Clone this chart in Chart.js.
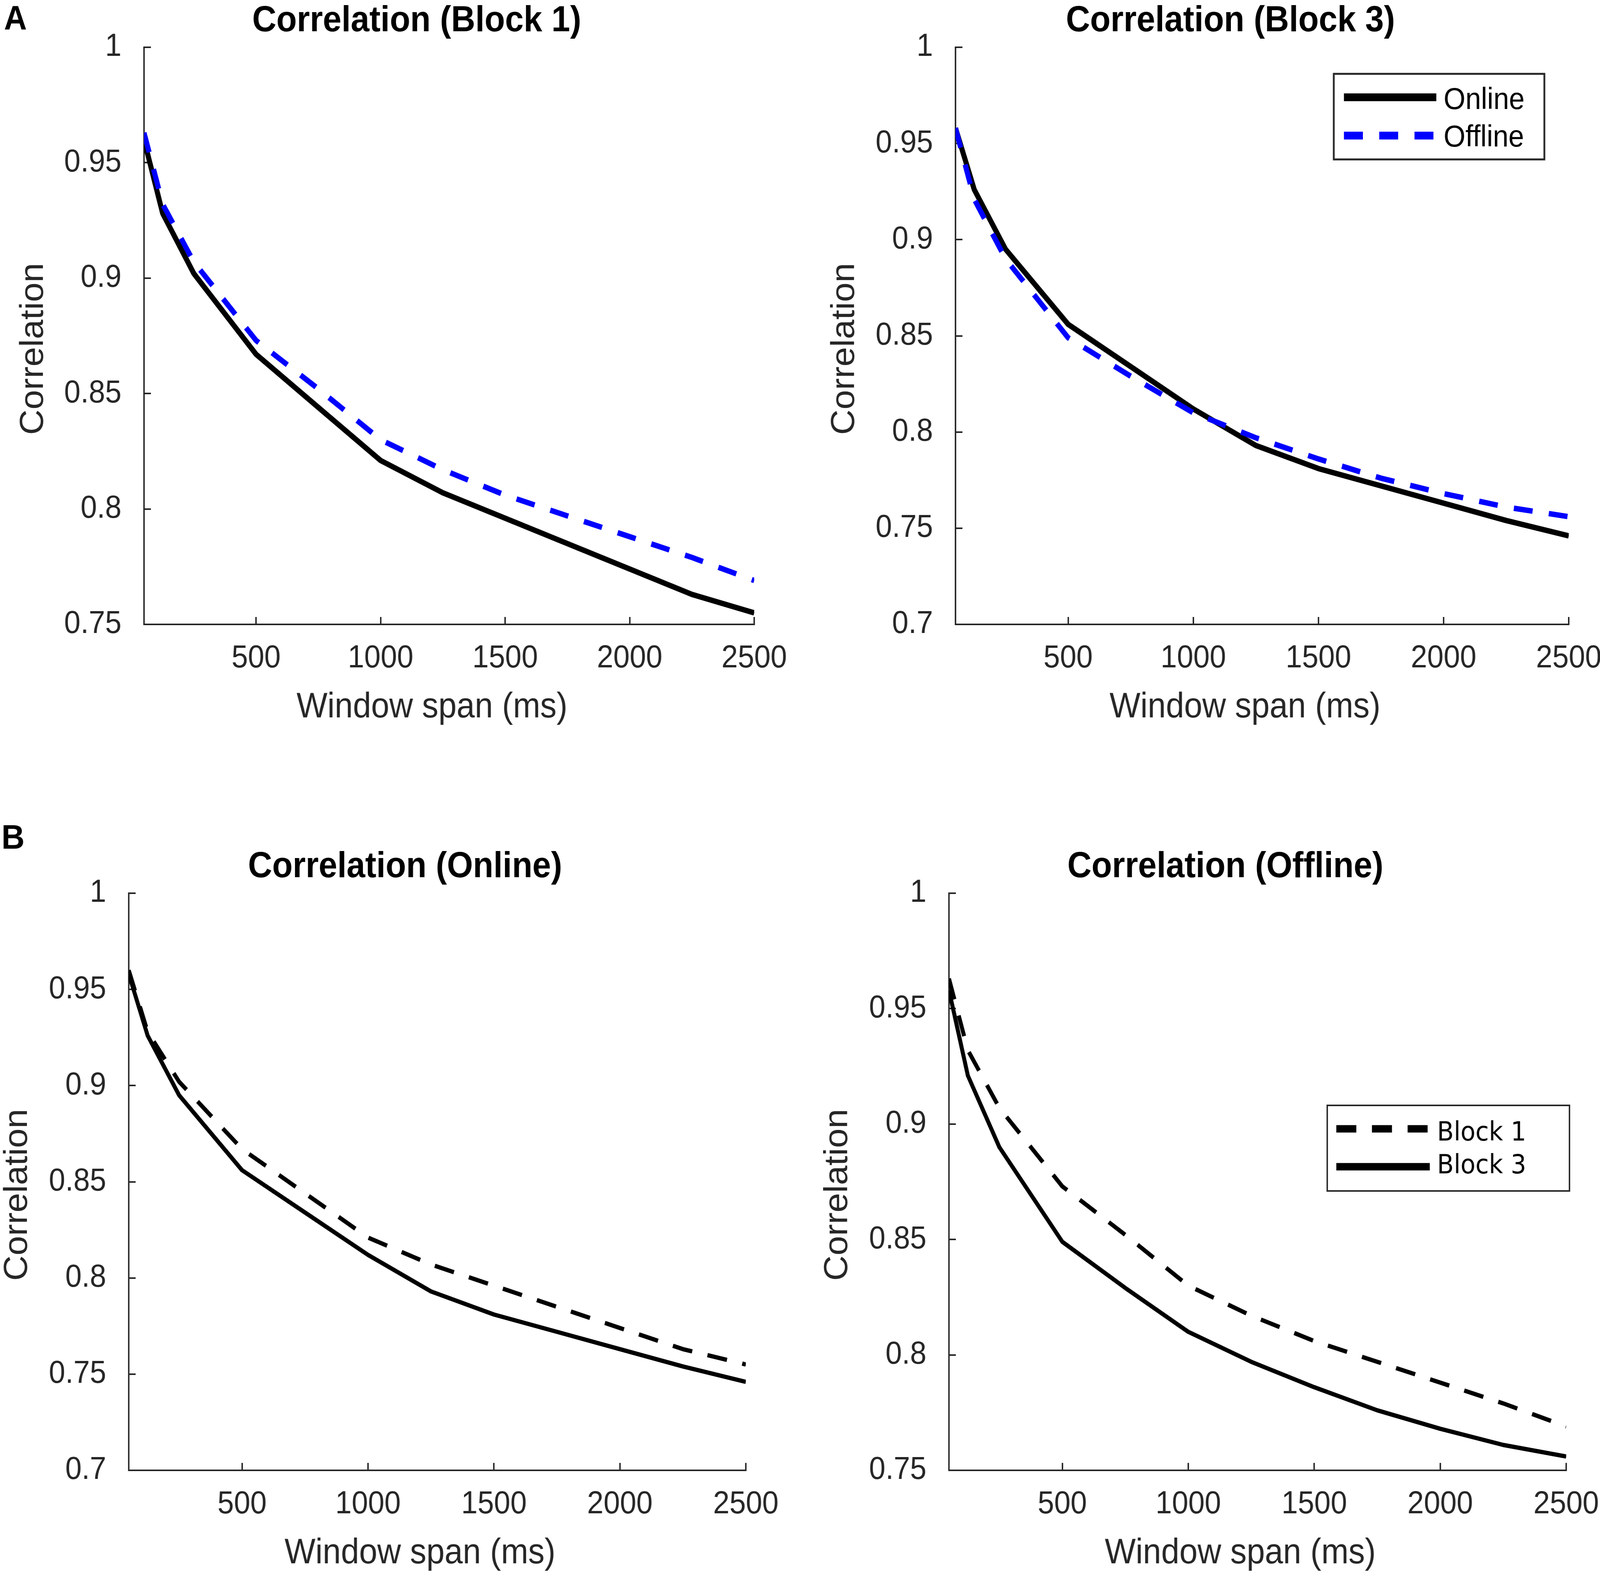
<!DOCTYPE html>
<html>
<head>
<meta charset="utf-8">
<script src="https://cdn.jsdelivr.net/npm/chart.js@4.4.1/dist/chart.umd.min.js"></script>
<style>
  html, body { margin: 0; padding: 0; background: #ffffff; overflow: hidden; }
  canvas { position: absolute; display: block; }
</style>
</head>
<body>
<canvas id="c1"></canvas>
<canvas id="c2"></canvas>
<canvas id="c3"></canvas>
<canvas id="c4"></canvas>
<script>
// ---------------- data ----------------
const windowSpan    = [50, 125, 250, 500, 750, 1000, 1250, 1500, 1750, 2000, 2250, 2500];
const block1Online  = [0.960, 0.928, 0.902, 0.867, 0.844, 0.821, 0.807, 0.796, 0.785, 0.774, 0.763, 0.755];
const block1Offline = [0.963, 0.932, 0.907, 0.873, 0.852, 0.830, 0.817, 0.806, 0.797, 0.788, 0.779, 0.769];
const block3Online  = [0.958, 0.926, 0.895, 0.856, 0.834, 0.812, 0.793, 0.781, 0.772, 0.763, 0.754, 0.746];
const block3Offline = [0.958, 0.921, 0.890, 0.849, 0.829, 0.810, 0.797, 0.786, 0.776, 0.768, 0.761, 0.756];

const xTicks      = [500, 1000, 1500, 2000, 2500];
const xTickLabels = ['500', '1000', '1500', '2000', '2500'];
const yTicks075      = [0.75, 0.8, 0.85, 0.9, 0.95, 1];
const yTickLabels075 = ['0.75', '0.8', '0.85', '0.9', '0.95', '1'];
const yTicks070      = [0.7, 0.75, 0.8, 0.85, 0.9, 0.95, 1];
const yTickLabels070 = ['0.7', '0.75', '0.8', '0.85', '0.9', '0.95', '1'];

const xAxisTitle = 'Window span (ms)';
const yAxisTitle = 'Correlation';

// ---------------- styling / layout ----------------
// The figure is laid out on a 4400 x 4036 grid and stretched to fill the actual viewport.
const PAGE_W = 4400, PAGE_H = 4036;
const vw = window.innerWidth || document.documentElement.clientWidth || PAGE_W;
const vh = window.innerHeight || document.documentElement.clientHeight || PAGE_H;
const SX = vw / PAGE_W;
const SY = vh / PAGE_H;
document.documentElement.style.width = (PAGE_W * SX) + 'px';
document.documentElement.style.height = (PAGE_H * SY) + 'px';
document.body.style.width = (PAGE_W * SX) + 'px';
document.body.style.height = (PAGE_H * SY) + 'px';

const SANS = '"Liberation Sans", Arial, Helvetica, sans-serif';
const AXIS_COLOR = '#262626';
const XH = 200;

function pts(values) { return windowSpan.map((s, i) => ({ x: s, y: values[i] })); }

const panels = [
  {
    id: 'c1', cl: 0, ct: 0, cw: 2200, ch: 2018,
    area: { l: 396, r: 2074, t: 121, b: 1598 },
    yMin: 0.75, yTicks: yTicks075, yLabels: yTickLabels075,
    title: 'Correlation (Block 1)', titlePos: [1146, 80],
    xLabelPos: [1188, 1836], yLabelPos: [93, 893],
    letter: { text: 'A', x: 11, y: 75, size: 87 },
    datasets: [
      { label: 'Offline', values: block1Offline, color: '#0000ff', dash: [52, 45], width: 14, order: 0 },
      { label: 'Online',  values: block1Online,  color: '#000000', dash: [],       width: 14, order: 1 }
    ],
    legend: null
  },
  {
    id: 'c2', cl: 2150, ct: 0, cw: 2250, ch: 2018,
    area: { l: 2628, r: 4314, t: 121, b: 1598 },
    yMin: 0.7, yTicks: yTicks070, yLabels: yTickLabels070,
    title: 'Correlation (Block 3)', titlePos: [3384, 80],
    xLabelPos: [3424, 1836], yLabelPos: [2324, 893],
    letter: null,
    datasets: [
      { label: 'Offline', values: block3Offline, color: '#0000ff', dash: [52, 45], width: 14, order: 0 },
      { label: 'Online',  values: block3Online,  color: '#000000', dash: [],       width: 14, order: 1 }
    ],
    legend: { box: [3668, 189, 579, 219], border: 5, rows: [1, 0], rowY: [249, 347], baseY: [279, 375],
              sx: [3696, 3950], tx: 3970, font: '77px ' + SANS, lineWidth: 20 }
  },
  {
    id: 'c3', cl: 0, ct: 2018, cw: 2200, ch: 2018,
    area: { l: 354, r: 2051, t: 2286, b: 3763 },
    yMin: 0.7, yTicks: yTicks070, yLabels: yTickLabels070,
    title: 'Correlation (Online)', titlePos: [1114, 2245],
    xLabelPos: [1155, 4001], yLabelPos: [49, 3058],
    letter: { text: 'B', x: 4, y: 2172, size: 88 },
    datasets: [
      { label: 'Block 1', values: block1Online, color: '#000000', dash: [55, 43], width: 11, order: 0 },
      { label: 'Block 3', values: block3Online, color: '#000000', dash: [],       width: 11, order: 1 }
    ],
    legend: null
  },
  {
    id: 'c4', cl: 2150, ct: 2018, cw: 2250, ch: 2018,
    area: { l: 2610, r: 4307, t: 2286, b: 3763 },
    yMin: 0.75, yTicks: yTicks075, yLabels: yTickLabels075,
    title: 'Correlation (Offline)', titlePos: [3370, 2245],
    xLabelPos: [3411, 4001], yLabelPos: [2305, 3058],
    letter: null,
    datasets: [
      { label: 'Block 1', values: block1Offline, color: '#000000', dash: [55, 43], width: 11, order: 0 },
      { label: 'Block 3', values: block3Offline, color: '#000000', dash: [],       width: 11, order: 1 }
    ],
    legend: { box: [3650, 2829, 666, 219], border: 4, rows: [0, 1], rowY: [2889, 2986], baseY: [2919, 3003],
              sx: [3675, 3932], tx: 3952, font: '67px "DejaVu Sans", sans-serif', lineWidth: 19 }
  }
];

function decorPlugin(p) {
  return {
    id: 'panelDecor',
    afterDraw(chart) {
      const ctx = chart.ctx;
      const ox = p.cl, oy = p.ct;
      ctx.save();
      // title
      ctx.fillStyle = '#000000';
      ctx.font = 'bold 92px ' + SANS;
      ctx.textAlign = 'center';
      ctx.textBaseline = 'alphabetic';
      ctx.fillText(p.title, p.titlePos[0] - ox, p.titlePos[1] - oy);
      // x axis title
      ctx.fillStyle = AXIS_COLOR;
      ctx.font = '90px ' + SANS;
      ctx.fillText(xAxisTitle, p.xLabelPos[0] - ox, p.xLabelPos[1] - oy);
      // y axis title
      ctx.save();
      ctx.translate(p.yLabelPos[0] - ox, p.yLabelPos[1] - oy);
      ctx.rotate(-Math.PI / 2);
      ctx.textBaseline = 'middle';
      ctx.fillText(yAxisTitle, 0, 0);
      ctx.restore();
      // panel letter
      if (p.letter) {
        ctx.fillStyle = '#000000';
        ctx.font = 'bold ' + p.letter.size + 'px ' + SANS;
        ctx.textAlign = 'left';
        ctx.textBaseline = 'alphabetic';
        ctx.fillText(p.letter.text, p.letter.x - ox, p.letter.y - oy);
      }
      // legend
      if (p.legend) {
        const L = p.legend;
        ctx.fillStyle = '#ffffff';
        ctx.fillRect(L.box[0] - ox, L.box[1] - oy, L.box[2], L.box[3]);
        ctx.lineWidth = L.border;
        ctx.strokeStyle = AXIS_COLOR;
        ctx.setLineDash([]);
        ctx.strokeRect(L.box[0] - ox, L.box[1] - oy, L.box[2], L.box[3]);
        L.rows.forEach((di, k) => {
          const ds = chart.data.datasets[di];
          ctx.beginPath();
          ctx.setLineDash(ds.borderDash || []);
          ctx.lineCap = 'butt';
          ctx.lineWidth = L.lineWidth;
          ctx.strokeStyle = ds.borderColor;
          ctx.moveTo(L.sx[0] - ox, L.rowY[k] - oy);
          ctx.lineTo(L.sx[1] - ox, L.rowY[k] - oy);
          ctx.stroke();
          ctx.setLineDash([]);
          ctx.fillStyle = '#000000';
          ctx.font = L.font;
          ctx.textAlign = 'left';
          ctx.textBaseline = 'alphabetic';
          ctx.fillText(ds.label, L.tx - ox, L.baseY[k] - oy);
        });
      }
      ctx.restore();
    }
  };
}

panels.forEach(p => {
  const cv = document.getElementById(p.id);
  cv.width = p.cw; cv.height = p.ch;
  cv.style.left = (p.cl * SX) + 'px'; cv.style.top = (p.ct * SY) + 'px';
  cv.style.width = (p.cw * SX) + 'px'; cv.style.height = (p.ch * SY) + 'px';

  const aL = p.area.l - p.cl, aR = p.area.r - p.cl, aT = p.area.t - p.ct, aB = p.area.b - p.ct;

  new Chart(cv, {
    type: 'line',
    data: {
      datasets: p.datasets.map(d => ({
        label: d.label,
        data: pts(d.values),
        borderColor: d.color,
        backgroundColor: d.color,
        borderWidth: d.width,
        borderDash: d.dash,
        borderCapStyle: 'butt',
        borderJoinStyle: 'round',
        tension: 0,
        fill: false,
        pointRadius: 0,
        pointHoverRadius: 0,
        order: d.order
      }))
    },
    options: {
      responsive: false,
      animation: false,
      devicePixelRatio: 1,
      events: [],
      layout: {
        autoPadding: false,
        padding: { left: 0, top: aT, right: p.cw - aR, bottom: p.ch - aB - XH }
      },
      plugins: { legend: { display: false }, title: { display: false }, tooltip: { enabled: false } },
      scales: {
        x: {
          type: 'linear', position: 'bottom', min: 50, max: 2500,
          afterBuildTicks: s => { s.ticks = xTicks.map(v => ({ value: v })); },
          afterFit: s => { s.height = XH; s.paddingLeft = 0; s.paddingRight = 0; },
          ticks: {
            autoSkip: false, maxRotation: 0, minRotation: 0, padding: 58,
            color: AXIS_COLOR, font: { family: SANS, size: 81 },
            callback: (v) => xTickLabels[xTicks.indexOf(v)]
          },
          grid: { drawOnChartArea: false, drawTicks: true, tickLength: -19, color: AXIS_COLOR, lineWidth: 4, tickWidth: 4 },
          border: { display: true, color: AXIS_COLOR, width: 4 },
          title: { display: false }
        },
        y: {
          type: 'linear', position: 'left', min: p.yMin, max: 1,
          afterBuildTicks: s => { s.ticks = p.yTicks.map(v => ({ value: v })); },
          afterFit: s => { s.width = aL; s.paddingTop = 0; s.paddingBottom = 0; },
          ticks: {
            autoSkip: false, padding: 81,
            color: AXIS_COLOR, font: { family: SANS, size: 81 },
            callback: (v) => p.yLabels[p.yTicks.findIndex(t => Math.abs(t - v) < 1e-9)]
          },
          grid: { drawOnChartArea: false, drawTicks: true, tickLength: -19, color: AXIS_COLOR, lineWidth: 4, tickWidth: 4 },
          border: { display: true, color: AXIS_COLOR, width: 4 },
          title: { display: false }
        }
      }
    },
    plugins: [decorPlugin(p)]
  });
});
</script>
</body>
</html>
